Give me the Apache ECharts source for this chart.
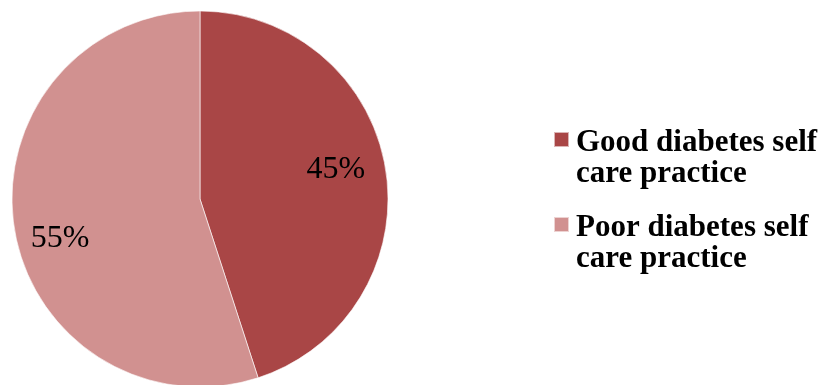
<!DOCTYPE html>
<html><head><meta charset="utf-8">
<script src="https://cdn.jsdelivr.net/npm/echarts@6/dist/echarts.min.js"></script>
<style>html,body{margin:0;padding:0;background:#fff}#c{width:827px;height:385px}</style>
</head><body><div id="c"></div>
<script>
var categories = ['Good diabetes self\ncare practice', 'Poor diabetes self\ncare practice'];
var values = [45, 55];
var colors = ['#A94646', '#D19190'];
var labelOffsets = [[40, -14], [-44, 24]];

var chart = echarts.init(document.getElementById('c'), null, {renderer: 'canvas'});
var legendText = {
  fontFamily: 'Liberation Serif', fontWeight: 'bold', fontSize: 31, color: '#000',
  lineHeight: 31,
  rich: {
    b: {lineHeight: 37, fontSize: 31, fontFamily: 'Liberation Serif'},
    a: {lineHeight: 31, fontSize: 31, fontFamily: 'Liberation Serif', fontWeight: 'bold', color: '#000', padding: [0, 0, 0, 2]}
  }
};
function legendFmt(name) {
  return '{b| }\n' + name.split('\n').map(function (s) { return '{a|' + s + '}'; }).join('\n');
}
chart.setOption({
  animation: false,
  legend: [
    {data: [categories[0]], left: 553, top: 90, padding: 0, itemWidth: 15, itemHeight: 15, icon: 'rect', orient: 'vertical', textStyle: legendText, formatter: legendFmt},
    {data: [categories[1]], left: 553, top: 175, padding: 0, itemWidth: 15, itemHeight: 15, icon: 'rect', orient: 'vertical', textStyle: legendText, formatter: legendFmt}
  ],
  series: [{
    type: 'pie',
    center: [200, 199],
    radius: 188,
    startAngle: 90,
    clockwise: true,
    color: colors,
    itemStyle: {borderColor: 'rgba(255,255,255,0.6)', borderWidth: 1},
    label: {
      show: true, position: 'inside',
      formatter: function (p) { return p.value + '%'; },
      fontFamily: 'Liberation Serif', fontSize: 32, color: '#000'
    },
    labelLine: {show: false},
    emphasis: {disabled: true},
    data: categories.map(function (c, i) {
      return {name: c, value: values[i], label: {offset: labelOffsets[i]}};
    })
  }]
});
</script>
</body></html>
